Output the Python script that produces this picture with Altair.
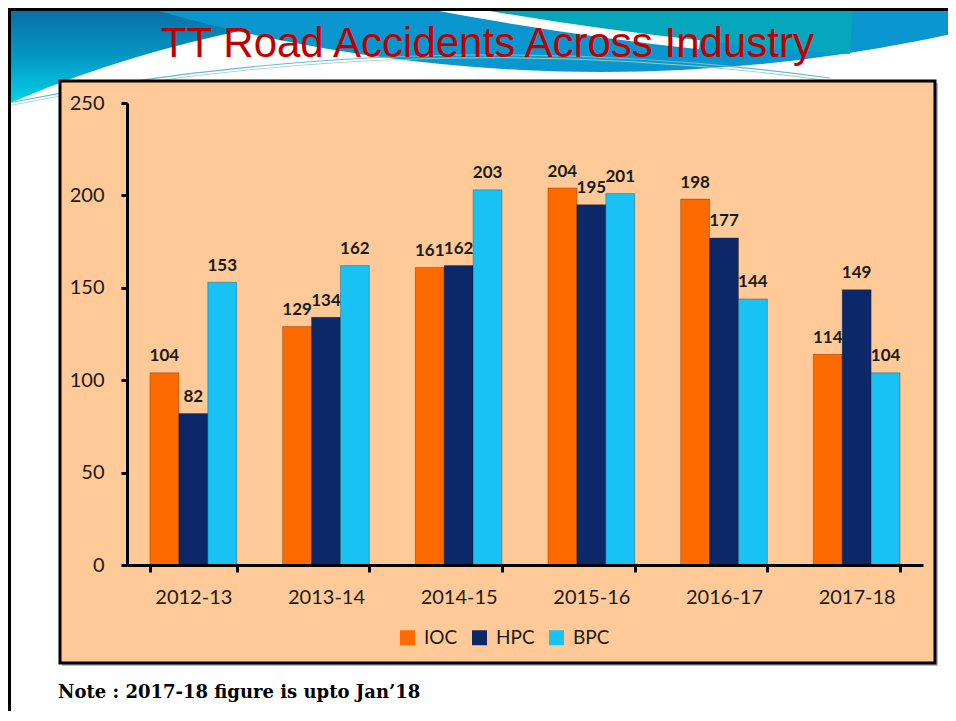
import altair as alt
import pandas as pd

# ---------------- data ----------------
years = ["2012-13", "2013-14", "2014-15", "2015-16", "2016-17", "2017-18"]
companies = ["IOC", "HPC", "BPC"]
ioc = [104, 129, 161, 204, 198, 114]
hpc = [82, 134, 162, 195, 177, 149]
bpc = [153, 162, 203, 201, 144, 104]
bar_colors = ["#FF6A00", "#0D2868", "#18C2F5"]
y_ticks = [0, 50, 100, 150, 200, 250]
title_text = "TT Road Accidents Across Industry"
note_text = "Note : 2017-18 figure is upto Jan\u201918"

rows = []
for comp, vals in zip(companies, [ioc, hpc, bpc]):
    for yr, v in zip(years, vals):
        rows.append({"year": yr, "company": comp, "value": v})
df = pd.DataFrame(rows)

# ---------------- layout helpers ----------------
W, H = 796, 462
OX, OY = 127, 103  # page position of the plot origin


def px(x):
    return x - OX


def py(y):
    return y - OY


one = pd.DataFrame({"k": [0]})


def rect(x1, y1, x2, y2, **kw):
    return alt.Chart(one).mark_rect(**kw).encode(
        x=alt.value(px(x1)), x2=alt.value(px(x2)),
        y=alt.value(py(y1)), y2=alt.value(py(y2)))


def arc(cx, cy, r_out, r_in, t1, t2, color):
    return alt.Chart(one).mark_arc(
        radius=r_out, radius2=r_in, theta=t1, theta2=t2, fill=color
    ).encode(x=alt.value(px(cx)), y=alt.value(py(cy)))


# ---------------- slide decoration ----------------
band = rect(10, 8, 956, 115, fill=alt.Gradient(
    gradient="linear", x1=0, x2=0, y1=0, y2=1,
    stops=[alt.GradientStop(offset=0, color="#0A6EA4"),
           alt.GradientStop(offset=0.45, color="#0596C4"),
           alt.GradientStop(offset=1, color="#00E3EF")]))
white_c1 = arc(484, 1213, 1207, 0, 0, 6.2832, "white")
white_right = rect(700, 28, 956, 115, fill="white")
lens = arc(601, -1564, 1636, 0, 0, 6.2832, "#0A96CE")
teal_top = arc(1067, -3364, 3425, 3300, 3.205, 3.34, "#05A7BC")
stripe = arc(1067, -3364, 3433, 3424, 3.249, 3.335, "white")
line1 = arc(493, 2524, 2469.7, 2468.5, 6.08, 6.42, "#6CB7D6")
line2 = arc(493, 2527, 2469.7, 2468.8, 6.08, 6.42, "#8FD3B8")
frame_left = rect(8, 8, 11, 721, fill="black")
frame_top = rect(8, 8, 956, 11, fill="black")
box_shadow = rect(62, 83, 938, 666, fill="#8A8A8A", opacity=0.6)
box = rect(60, 81, 935, 663, fill="#FFCA97", stroke="black", strokeWidth=3)

title = alt.Chart(one).mark_text(
    text=title_text, font="Liberation Sans", fontSize=42, color="#C00000",
    align="center", baseline="alphabetic"
).encode(x=alt.value(px(487.5)), y=alt.value(py(57)))

note = alt.Chart(one).mark_text(
    text=note_text, font="DejaVu Serif", fontWeight="bold", fontSize=18,
    color="black", align="left", baseline="alphabetic"
).encode(x=alt.value(px(58)), y=alt.value(py(698)))

# ---------------- bars ----------------
x_enc = alt.X(
    "year:N", sort=years,
    scale=alt.Scale(paddingInner=0.346, paddingOuter=0.173),
    axis=alt.Axis(title=None, labelAngle=0, labelFont="Lato", labelFontSize=20,
                  labelColor="#1a1a1a", domainColor="black", domainWidth=3,
                  tickColor="black", tickWidth=3, tickSize=7, tickBand="extent",
                  labelPadding=15, zindex=1))
xo_enc = alt.XOffset("company:N", sort=companies,
                     scale=alt.Scale(paddingInner=0, paddingOuter=0))
y_enc = alt.Y(
    "value:Q", scale=alt.Scale(domain=[0, 250], nice=False),
    axis=alt.Axis(title=None, values=y_ticks, grid=False, labelFont="Lato",
                  labelFontSize=20, labelColor="#1a1a1a", domainColor="black",
                  domainWidth=3, tickColor="black", tickWidth=3, tickSize=6,
                  labelPadding=17, zindex=1))
color_enc = alt.Color(
    "company:N", sort=companies,
    scale=alt.Scale(domain=companies, range=bar_colors),
    legend=alt.Legend(title=None, orient="none", legendX=px(398), legendY=py(628),
                      direction="horizontal", symbolType="square", symbolSize=225,
                      symbolStrokeWidth=0, labelFont="Lato", labelFontSize=19,
                      labelColor="#1a1a1a", labelOffset=7, columnPadding=12))

bars = alt.Chart(df).mark_bar(stroke="black", strokeOpacity=0.25, strokeWidth=1).encode(
    x=x_enc, xOffset=xo_enc, y=y_enc, color=color_enc)

labels = alt.Chart(df).mark_text(
    dy=-11.5, baseline="alphabetic", align="center", font="Lato",
    fontWeight="bold", fontSize=17, color="#1a1a1a"
).encode(x=alt.X("year:N", sort=years), xOffset=alt.XOffset("company:N", sort=companies),
         y=alt.Y("value:Q"), text=alt.Text("value:Q"))

chart = alt.layer(
    band, white_c1, white_right, lens, teal_top, stripe, line1, line2,
    frame_left, frame_top, box_shadow, box, title, note, bars, labels
).properties(
    width=W, height=H,
    autosize=alt.AutoSizeParams(type="none"),
    padding={"left": 119, "top": 95, "right": 25, "bottom": 146},
    background="white",
).configure_view(stroke=None)

chart.save("out.html", embed_options={"renderer": "svg", "actions": False})
